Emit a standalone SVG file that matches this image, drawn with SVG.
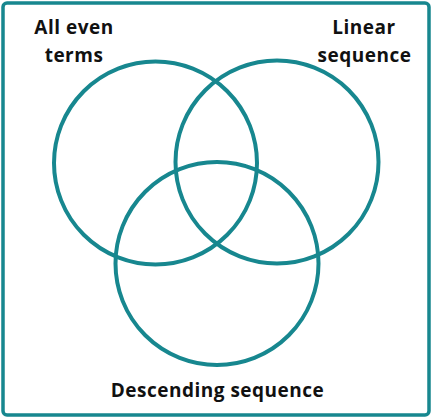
<svg xmlns="http://www.w3.org/2000/svg" width="433" height="418" viewBox="0 0 433 418">
<style>
.c{fill:none;stroke:#17878f;stroke-width:4}
.t{font-family:"Open Sans","Noto Sans",sans-serif;font-weight:bold;font-size:19px;letter-spacing:0.5px;fill:#111;text-anchor:middle}
</style>
<rect x="0" y="0" width="433" height="418" fill="#fff"/>
<rect x="3" y="3" width="426" height="412" rx="4" fill="none" stroke="#17878f" stroke-width="3.5"/>
<g id="set-even"><circle class="c" cx="155.5" cy="163" r="101.5"/>
<text class="t" x="74" y="34">All even</text><text class="t" x="74" y="62">terms</text></g>
<g id="set-linear"><circle class="c" cx="277" cy="162" r="101.5"/>
<text class="t" x="364" y="34">Linear</text><text class="t" x="364.5" y="62">sequence</text></g>
<g id="set-descending"><circle class="c" cx="217" cy="263.5" r="101.5"/>
<text class="t" x="217.5" y="397">Descending sequence</text></g>
<g id="connectors"></g>
</svg>
